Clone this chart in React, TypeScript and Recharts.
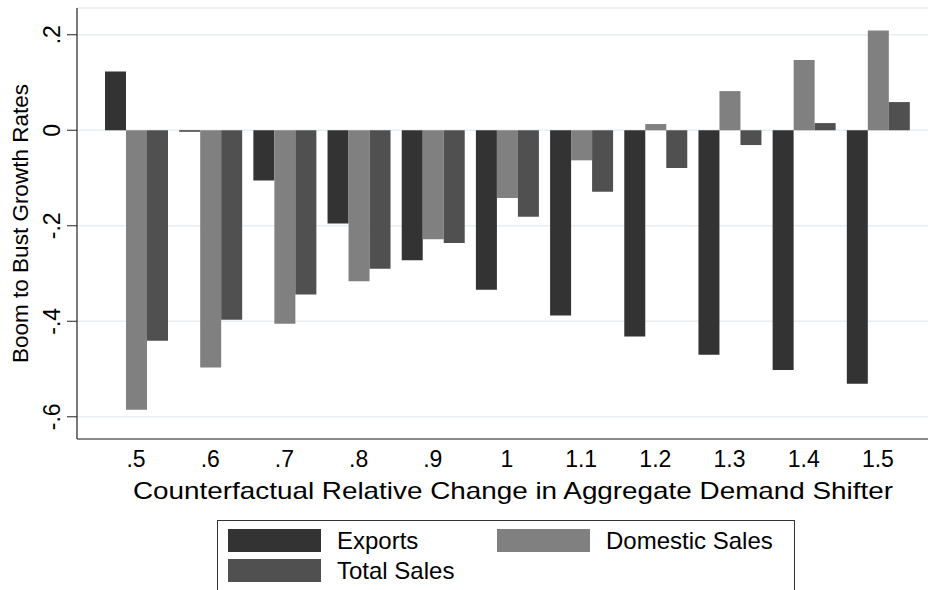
import React from 'react';
import { BarChart, Bar, XAxis, YAxis, CartesianGrid, Legend } from 'recharts';

const categories = ['.5', '.6', '.7', '.8', '.9', '1', '1.1', '1.2', '1.3', '1.4', '1.5'];
const exportsVals = [0.123, -0.003, -0.105, -0.195, -0.272, -0.334, -0.388, -0.432, -0.470, -0.502, -0.531];
const domesticVals = [-0.585, -0.497, -0.405, -0.316, -0.228, -0.142, -0.063, 0.013, 0.082, 0.147, 0.209];
const totalVals = [-0.441, -0.397, -0.344, -0.290, -0.236, -0.181, -0.129, -0.079, -0.031, 0.015, 0.059];
const yTicks = [-0.6, -0.4, -0.2, 0, 0.2];
const seriesNames = ['Exports', 'Domestic Sales', 'Total Sales'];

const data = categories.map((c, i) => ({
  cat: c,
  exports: exportsVals[i],
  domestic: domesticVals[i],
  total: totalVals[i],
}));

const FONT = '"Liberation Sans", Arial, Helvetica, sans-serif';

const fmt = (v: number) => {
  if (Math.abs(v) < 1e-9) return '0';
  const s = String(Math.round(v * 10) / 10);
  return s.replace('0.', '.');
};

const YTick = (props: any) => {
  const { y, payload } = props;
  return (
    <text
      x={52}
      y={y}
      transform={`rotate(-90, 52, ${y})`}
      textAnchor="middle"
      dominantBaseline="central"
      fontSize={23}
      fontFamily={FONT}
      fill="#000"
    >
      {fmt(payload.value)}
    </text>
  );
};

const XTick = (props: any) => {
  const { x, payload } = props;
  return (
    <text x={x} y={467} textAnchor="middle" fontSize={23} fontFamily={FONT} fill="#000">
      {payload.value}
    </text>
  );
};

const LegendBox = (props: any) => {
  const payload = [...(props.payload || [])].sort(
    (a: any, b: any) => seriesNames.indexOf(a.value) - seriesNames.indexOf(b.value)
  );
  return (
    <div
      style={{
        position: 'relative',
        width: 578,
        height: 100,
        border: '1px solid #333',
        boxSizing: 'border-box',
        background: '#fff',
        fontFamily: FONT,
      }}
    >
      {payload.map((p: any, i: number) => {
        const col = i % 2;
        const row = Math.floor(i / 2);
        const left = 10 + col * 269;
        const top = 8 + row * 30;
        return (
          <React.Fragment key={p.value}>
            <div
              style={{
                position: 'absolute',
                left,
                top,
                width: 93,
                height: 23,
                background: p.color,
              }}
            />
            <div
              style={{
                position: 'absolute',
                left: left + 109,
                top: top - 2,
                height: 27,
                lineHeight: '27px',
                fontSize: 24,
                color: '#000',
                whiteSpace: 'nowrap',
              }}
            >
              {p.value}
            </div>
          </React.Fragment>
        );
      })}
    </div>
  );
};

export default function App() {
  return (
    <div
      style={{
        position: 'absolute',
        left: 0,
        top: 0,
        width: 928,
        height: 590,
        overflow: 'hidden',
        background: '#fff',
      }}
    >
      <BarChart
        width={937}
        height={590}
        data={data}
        margin={{ top: 8, right: 0, left: 0, bottom: 0 }}
        barCategoryGap={6}
        barGap={0}
      >
        <CartesianGrid vertical={false} stroke="#e8eef2" strokeWidth={1.5} />
        <XAxis
          dataKey="cat"
          height={151}
          padding={{ left: 22, right: 22 }}
          tickLine={false}
          axisLine={{ stroke: '#222', strokeWidth: 1.2 }}
          tick={<XTick />}
          interval={0}
          label={{
            content: () => (
              <text
                x={513}
                y={499}
                textAnchor="middle"
                fontSize={24}
                fontFamily={FONT}
                fill="#000"
                textLength={760}
                lengthAdjust="spacingAndGlyphs"
              >
                Counterfactual Relative Change in Aggregate Demand Shifter
              </text>
            ),
          }}
        />
        <YAxis
          width={77}
          domain={[-0.6465, 0.256]}
          ticks={yTicks}
          allowDataOverflow
          tickSize={10}
          tickLine={{ stroke: '#222' }}
          axisLine={{ stroke: '#222', strokeWidth: 1.2 }}
          tick={<YTick />}
          label={{
            content: (p: any) => {
              const vb = p.viewBox || { y: 8, height: 431 };
              const cy = vb.y + vb.height / 2;
              return (
                <text
                  x={20}
                  y={cy}
                  transform={`rotate(-90, 20, ${cy})`}
                  textAnchor="middle"
                  dominantBaseline="central"
                  fontSize={22.5}
                  fontFamily={FONT}
                  fill="#000"
                >
                  Boom to Bust Growth Rates
                </text>
              );
            },
          }}
        />
        <Legend
          layout="horizontal"
          verticalAlign="middle"
          align="center"
          wrapperStyle={{ position: 'absolute', left: 217, top: 520, width: 578, height: 100 }}
          content={<LegendBox />}
        />
        <Bar dataKey="exports" name="Exports" fill="#333333" isAnimationActive={false} />
        <Bar dataKey="domestic" name="Domestic Sales" fill="#808080" isAnimationActive={false} />
        <Bar dataKey="total" name="Total Sales" fill="#505050" isAnimationActive={false} />
      </BarChart>
    </div>
  );
}
